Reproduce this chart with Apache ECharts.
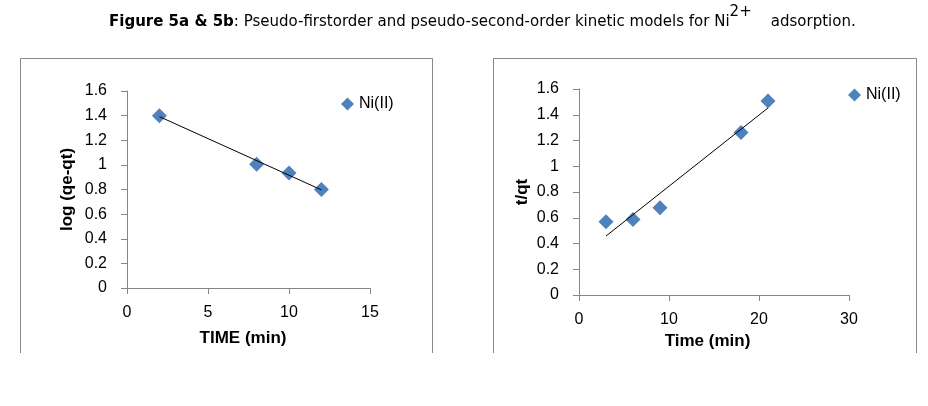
<!DOCTYPE html>
<html>
<head>
<meta charset="utf-8">
<script src="https://cdn.jsdelivr.net/npm/echarts@6/dist/echarts.min.js"></script>
<style>html,body{margin:0;padding:0;background:#fff;}#c{width:928px;height:406px;}</style>
</head>
<body>
<div id="c"></div>
<script>
// Figure 5a: pseudo-first-order
const timeA = [2, 8, 10, 12];
const logQ = [1.40, 1.005, 0.935, 0.80];
const trendA = [[2, 1.392], [12, 0.797]];
// Figure 5b: pseudo-second-order
const timeB = [3, 6, 9, 18, 21];
const tOverQ = [0.569, 0.587, 0.677, 1.262, 1.507];
const trendB = [[3, 0.458], [21, 1.453]];
const seriesName = 'Ni(II)';

const FONT = 'Liberation Sans';
const TFONT = 'DejaVu Sans';
const axisColor = '#868686';
const markColor = '#4F81BD';

function valueAxis(opts) {
  return Object.assign({
    type: 'value',
    axisLine: { show: true, lineStyle: { color: axisColor, width: 1 } },
    axisTick: { show: true, length: 6, lineStyle: { color: axisColor } },
    splitLine: { show: false },
    axisLabel: { color: '#000', fontSize: 16, fontFamily: FONT },
    nameLocation: 'middle',
    nameTextStyle: { color: '#000', fontSize: 17, fontWeight: 'bold', fontFamily: FONT }
  }, opts);
}

const chart = echarts.init(document.getElementById('c'), null, { renderer: 'canvas' });
chart.setOption({
  animation: false,
  backgroundColor: '#fff',
  title: {
    left: 104, top: 0,
    text: '{b|Figure 5a & 5b}{n|: Pseudo-firstorder and pseudo-second-order kinetic models for Ni}{s|2+}{n|    adsorption.}',
    textStyle: {
      fontWeight: 'normal',
      rich: {
        b: { fontFamily: TFONT, fontSize: 15, fontWeight: 'bold', color: '#000', lineHeight: 25, verticalAlign: 'bottom' },
        n: { fontFamily: TFONT, fontSize: 15, fontWeight: 'normal', color: '#000', lineHeight: 25, verticalAlign: 'bottom' },
        s: { fontFamily: TFONT, fontSize: 15, fontWeight: 'normal', color: '#000', lineHeight: 25, verticalAlign: 'top' }
      }
    }
  },
  graphic: [
    { type: 'polyline', shape: { points: [[20.5, 353], [20.5, 58.5], [432.5, 58.5], [432.5, 353]] }, style: { stroke: '#888', lineWidth: 1, fill: null } },
    { type: 'polyline', shape: { points: [[493.5, 353], [493.5, 58.5], [916.5, 58.5], [916.5, 353]] }, style: { stroke: '#888', lineWidth: 1, fill: null } }
  ],
  legend: [
    { left: 336, top: 91, itemWidth: 13, itemHeight: 13, itemGap: 5, icon: 'diamond', data: [{ name: seriesName, itemStyle: { color: markColor, opacity: 1 } }], textStyle: { color: '#000', fontSize: 16, fontFamily: FONT }, selectedMode: false },
    { left: 843, top: 82, itemWidth: 13, itemHeight: 13, itemGap: 5, icon: 'diamond', data: [{ name: seriesName, itemStyle: { color: markColor, opacity: 1 } }], textStyle: { color: '#000', fontSize: 16, fontFamily: FONT }, selectedMode: false }
  ],
  grid: [
    { left: 127, top: 91, width: 243, height: 197 },
    { left: 579, top: 89, width: 270, height: 206 }
  ],
  xAxis: [
    valueAxis({ gridIndex: 0, min: 0, max: 15, interval: 5, name: 'TIME (min)', nameGap: 42, axisLabel: { color: '#000', fontSize: 16, fontFamily: FONT, margin: 17 }, nameTextStyle: { color: '#000', fontSize: 17, fontWeight: 'bold', fontFamily: FONT, padding: [0, 11, 0, 0] } }),
    valueAxis({ gridIndex: 1, min: 0, max: 30, interval: 10, name: 'Time (min)', nameGap: 35, axisLabel: { color: '#000', fontSize: 16, fontFamily: FONT, margin: 17 }, nameTextStyle: { color: '#000', fontSize: 17, fontWeight: 'bold', fontFamily: FONT, padding: [0, 13, 0, 0] } })
  ],
  yAxis: [
    valueAxis({ gridIndex: 0, min: 0, max: 1.6, interval: 0.2, name: 'log (qe-qt)', nameGap: 51, axisLabel: { color: '#000', fontSize: 16, fontFamily: FONT, margin: 20 } }),
    valueAxis({ gridIndex: 1, min: 0, max: 1.6, interval: 0.2, name: 't/qt', nameGap: 48, axisLabel: { color: '#000', fontSize: 16, fontFamily: FONT, margin: 20 } })
  ],
  series: [
    { name: seriesName, type: 'scatter', xAxisIndex: 0, yAxisIndex: 0, symbol: 'diamond', symbolSize: 15, itemStyle: { color: markColor, opacity: 1 }, data: timeA.map((t, i) => [t, logQ[i]]), z: 2 },
    { type: 'line', xAxisIndex: 0, yAxisIndex: 0, data: trendA, showSymbol: false, symbol: 'none', lineStyle: { color: '#000', width: 1 }, z: 3, silent: true },
    { name: seriesName, type: 'scatter', xAxisIndex: 1, yAxisIndex: 1, symbol: 'diamond', symbolSize: 15, itemStyle: { color: markColor, opacity: 1 }, data: timeB.map((t, i) => [t, tOverQ[i]]), z: 2 },
    { type: 'line', xAxisIndex: 1, yAxisIndex: 1, data: trendB, showSymbol: false, symbol: 'none', lineStyle: { color: '#000', width: 1 }, z: 3, silent: true }
  ]
});
</script>
</body>
</html>
